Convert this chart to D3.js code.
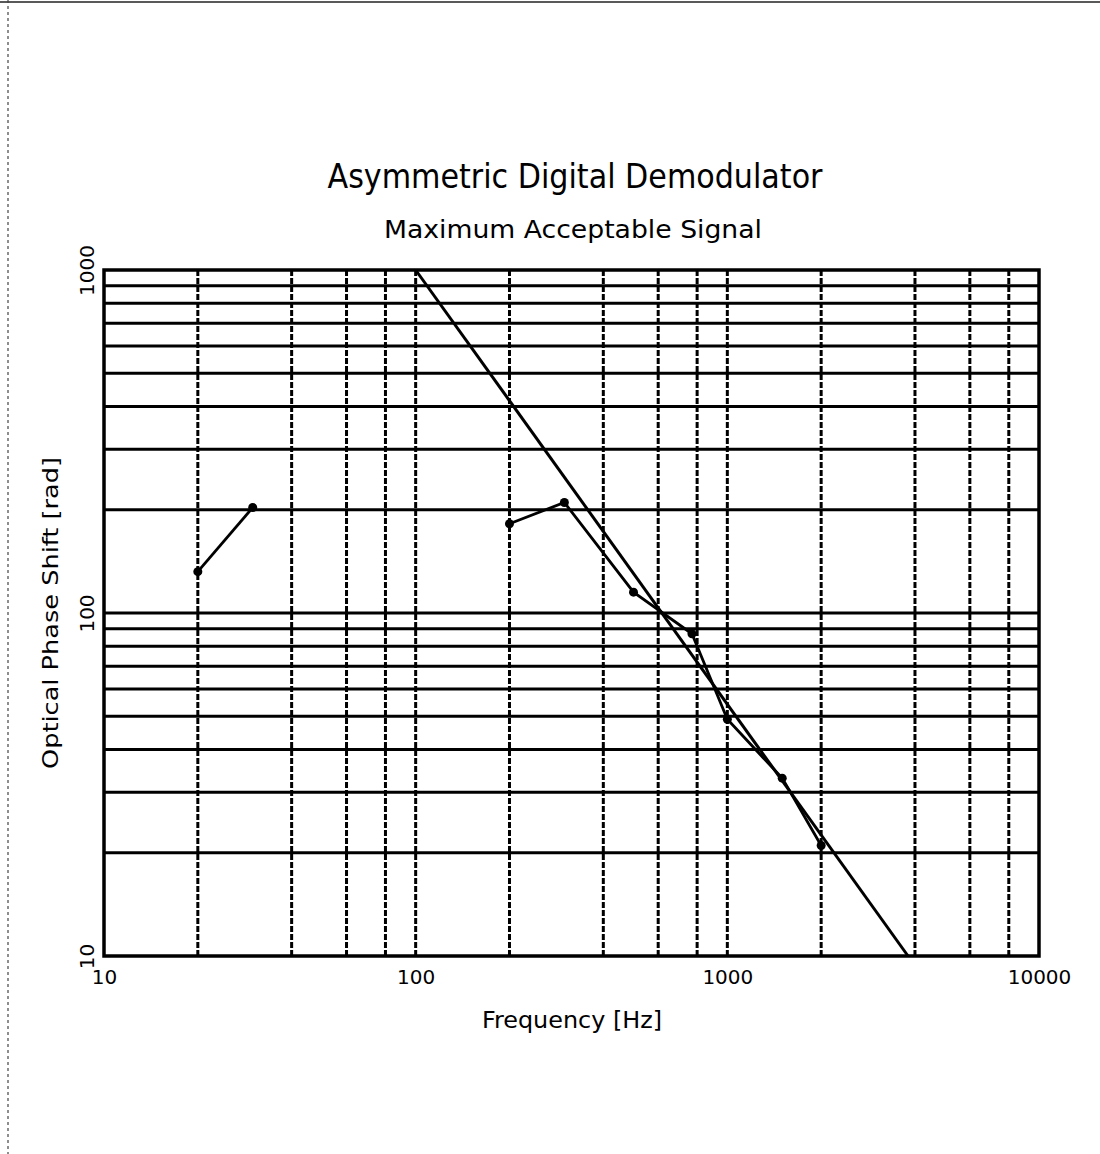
<!DOCTYPE html>
<html><head><meta charset="utf-8">
<script src="https://cdn.jsdelivr.net/npm/d3@7"></script>
<style>body{margin:0;background:#fff}svg{display:block}</style>
</head><body>
<script>
// ---- data ----
const xTickValues = [10, 100, 1000, 10000];
const yTickValues = [10, 100, 1000];
const xGridValues = [20, 40, 60, 80, 100, 200, 400, 600, 800, 1000, 2000, 4000, 6000, 8000];
const yGridValues = [20, 30, 40, 50, 60, 70, 80, 90, 100, 200, 300, 400, 500, 600, 700, 800, 900];
const theoryFreq = [100, 3800];
const theoryPhase = [1000, 10];
const lowFreq = [20, 30];
const lowPhase = [132, 203];
const measFreq = [200, 300, 500, 770, 1000, 1500, 2000];
const measPhase = [182, 210, 115, 87, 49, 33, 21];
const titleText = "Asymmetric Digital Demodulator";
const subtitleText = "Maximum Acceptable Signal";
const xLabel = "Frequency [Hz]";
const yLabel = "Optical Phase Shift [rad]";

const W = 1100, H = 1154;
const L = 104, R = 1039, T = 270, B = 956;
const FONT = "'DejaVu Sans', sans-serif";

const svg = d3.select("body").append("svg").attr("width", W).attr("height", H);
svg.append("rect").attr("width", W).attr("height", H).attr("fill", "#fff");

// scan frame
svg.append("line").attr("x1", 0).attr("x2", W).attr("y1", 2).attr("y2", 2)
  .attr("stroke", "#222").attr("stroke-width", 1.5);
svg.append("line").attr("x1", 8).attr("x2", 8).attr("y1", 0).attr("y2", H)
  .attr("stroke", "#444").attr("stroke-width", 1.2).attr("stroke-dasharray", "3,3");

const x = d3.scaleLog().domain([10, 10000]).range([L, R]);
const y = d3.scaleLog().domain([10, 1000]).range([B, T]);

// grid
const g = svg.append("g");
g.selectAll(".hg").data(yGridValues).join("line")
  .attr("x1", L).attr("x2", R).attr("y1", d => y(d)).attr("y2", d => y(d))
  .attr("stroke", "#000").attr("stroke-width", 3);
g.selectAll(".vg").data(xGridValues).join("line")
  .attr("x1", d => x(d)).attr("x2", d => x(d)).attr("y1", T).attr("y2", B)
  .attr("stroke", "#000").attr("stroke-width", 3).attr("stroke-dasharray", "6,2");

// frame
svg.append("rect").attr("x", L).attr("y", T).attr("width", R - L).attr("height", B - T)
  .attr("fill", "none").attr("stroke", "#000").attr("stroke-width", 3.5);

// axes
const xAxis = svg.append("g").attr("transform", `translate(0,${B})`)
  .call(d3.axisBottom(x).tickValues(xTickValues).tickSize(0).tickPadding(14).tickFormat(d3.format("d")));
xAxis.select(".domain").remove();
xAxis.selectAll("text").attr("font-family", FONT).attr("font-size", 20).attr("fill", "#000");

const yAxis = svg.append("g").attr("transform", `translate(${L},0)`)
  .call(d3.axisLeft(y).tickValues(yTickValues).tickSize(0).tickFormat(d3.format("d")));
yAxis.select(".domain").remove();
yAxis.selectAll("text").attr("font-family", FONT).attr("font-size", 20).attr("fill", "#000")
  .attr("text-anchor", "middle").attr("dy", null).attr("x", 0).attr("y", 0)
  .attr("transform", "translate(-10,0) rotate(-90)");

// lines
const line = d3.line().x(d => x(d[0])).y(d => y(d[1]));
const theory = theoryFreq.map((f, i) => [f, theoryPhase[i]]);
const low = lowFreq.map((f, i) => [f, lowPhase[i]]);
const meas = measFreq.map((f, i) => [f, measPhase[i]]);

svg.append("path").datum(theory).attr("d", line).attr("fill", "none")
  .attr("stroke", "#000").attr("stroke-width", 3);
[low, meas].forEach(s => {
  svg.append("path").datum(s).attr("d", line).attr("fill", "none")
    .attr("stroke", "#000").attr("stroke-width", 2.8);
  svg.append("g").selectAll("circle").data(s).join("circle")
    .attr("cx", d => x(d[0])).attr("cy", d => y(d[1])).attr("r", 4.5).attr("fill", "#000");
});

// titles
svg.append("text").attr("x", 575).attr("y", 188).attr("text-anchor", "middle")
  .attr("font-family", FONT).attr("font-size", 33).attr("textLength", 495)
  .attr("lengthAdjust", "spacingAndGlyphs").text(titleText);
svg.append("text").attr("x", 573).attr("y", 238).attr("text-anchor", "middle")
  .attr("font-family", FONT).attr("font-size", 24).attr("textLength", 378)
  .attr("lengthAdjust", "spacingAndGlyphs").text(subtitleText);
svg.append("text").attr("x", 572).attr("y", 1028).attr("text-anchor", "middle")
  .attr("font-family", FONT).attr("font-size", 23).attr("textLength", 180)
  .attr("lengthAdjust", "spacingAndGlyphs").text(xLabel);
svg.append("text").attr("transform", `translate(58,${(T + B) / 2}) rotate(-90)`)
  .attr("text-anchor", "middle").attr("font-family", FONT).attr("font-size", 22)
  .attr("textLength", 312).attr("lengthAdjust", "spacingAndGlyphs").text(yLabel);
</script>
</body></html>
